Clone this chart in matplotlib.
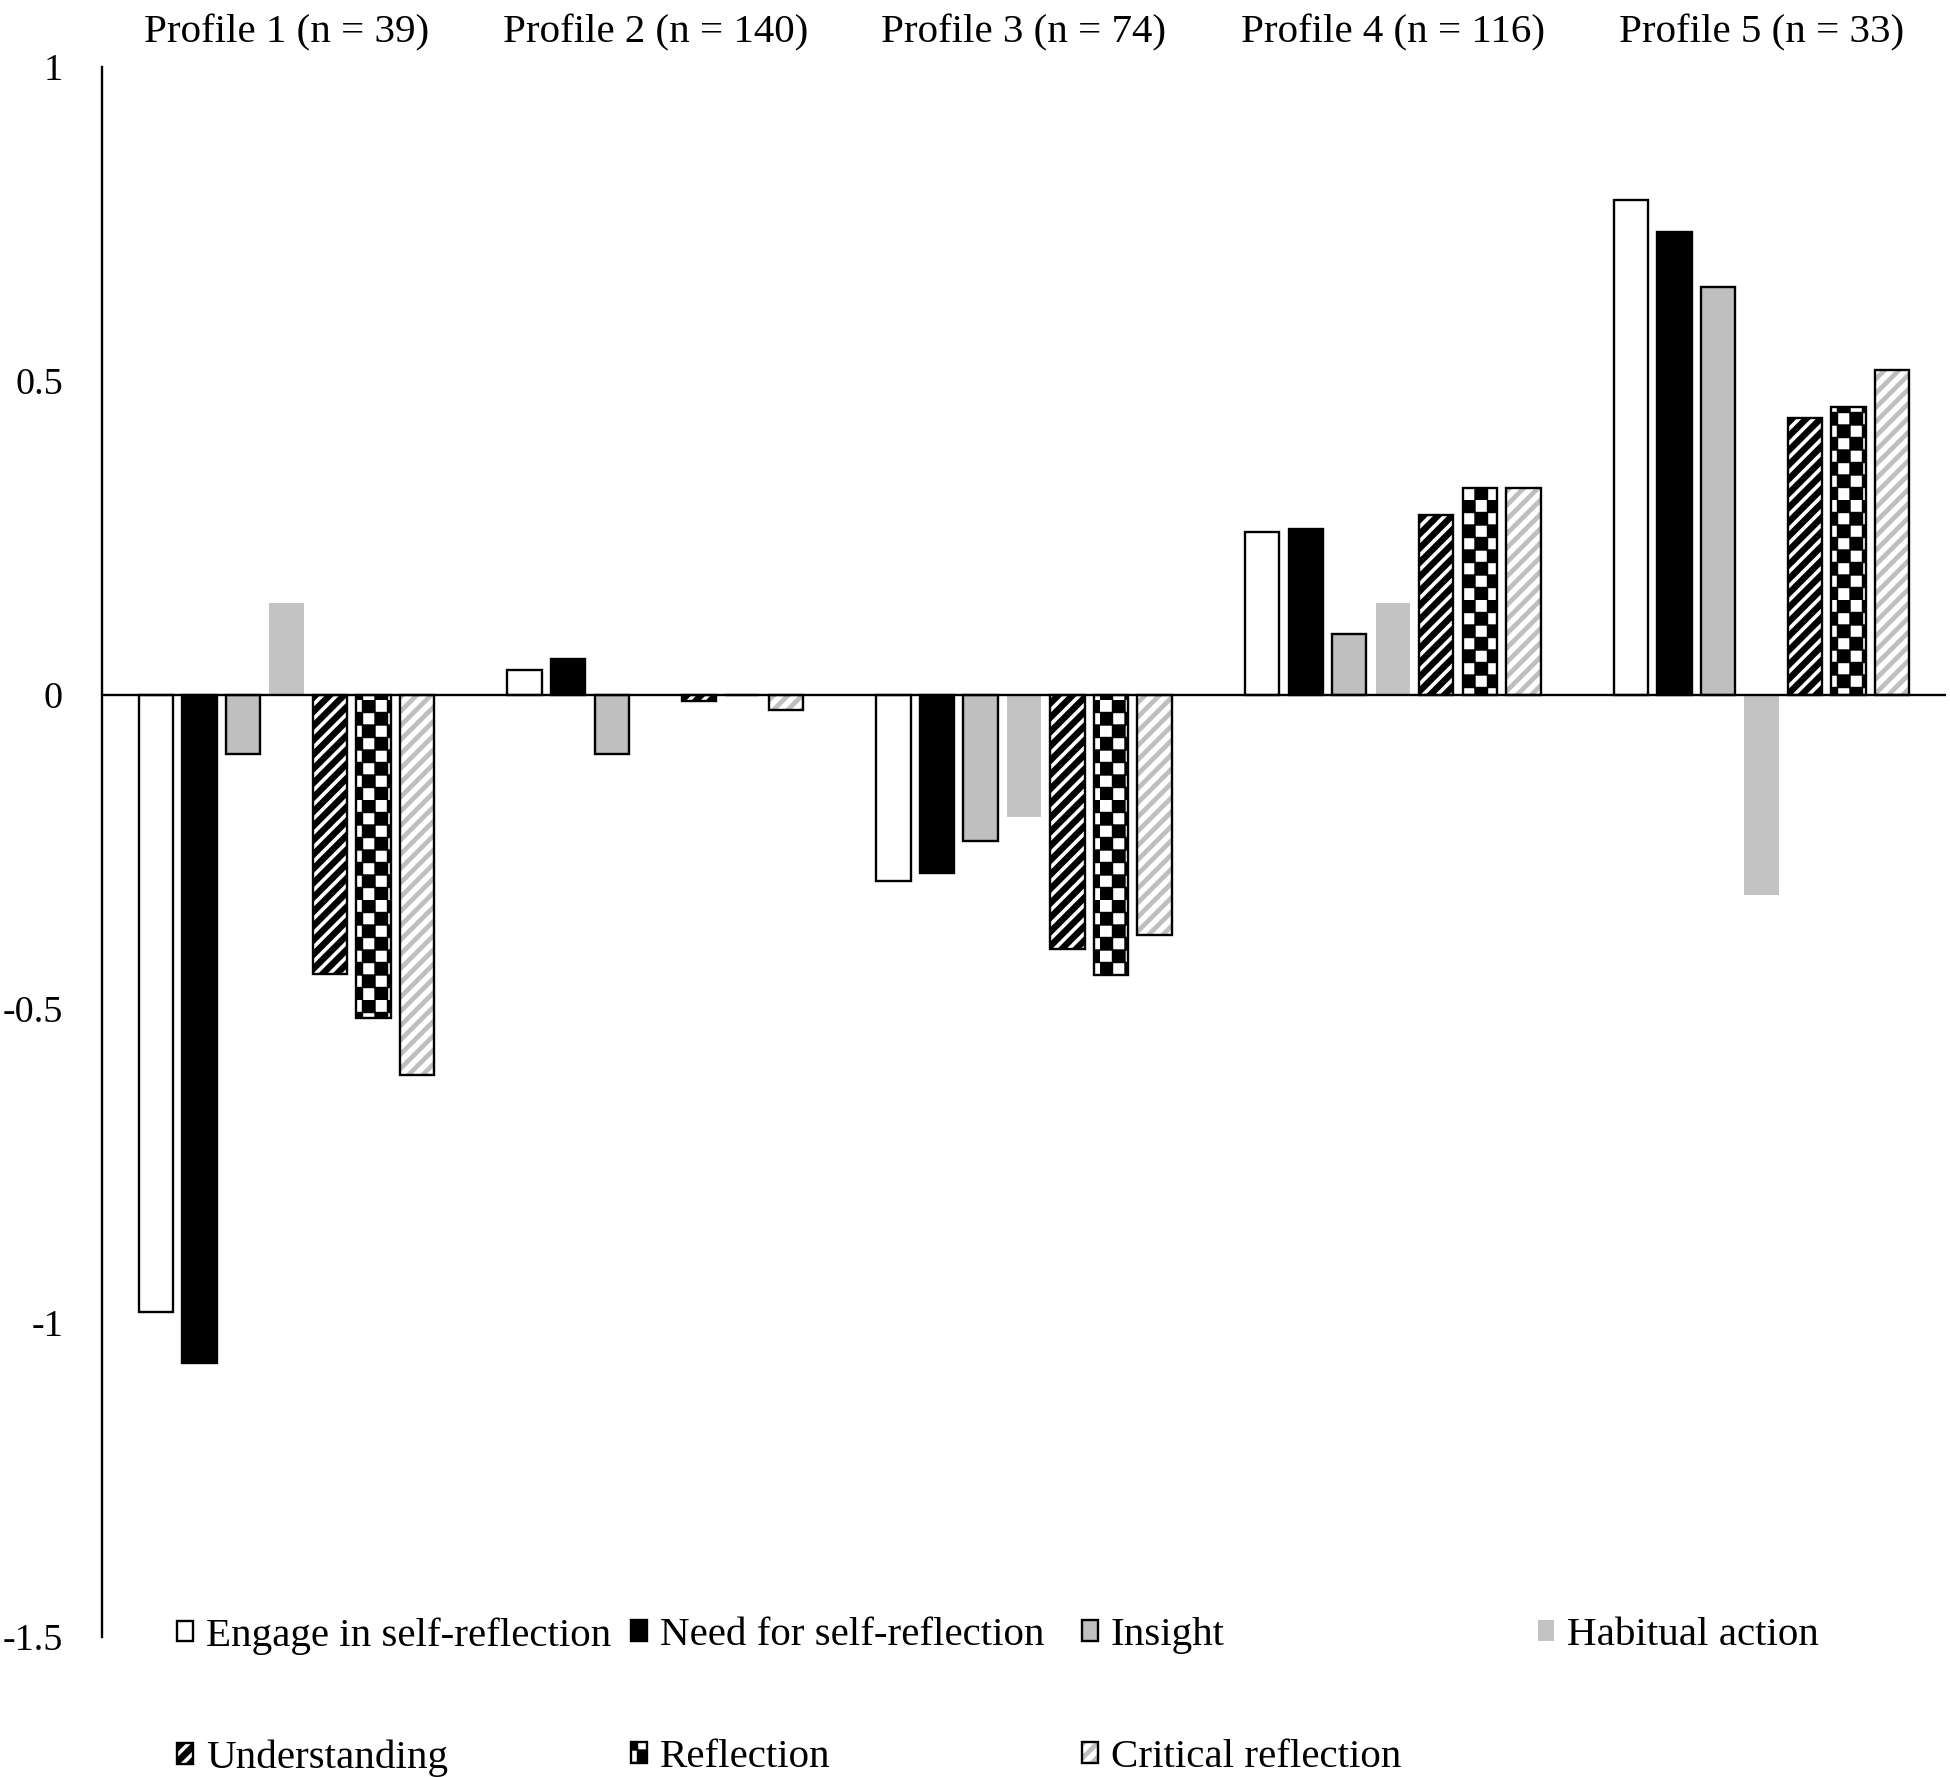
import numpy as np
import matplotlib
matplotlib.use("Agg")
import matplotlib.pyplot as plt
import matplotlib.hatch as mhatch
from matplotlib.path import Path
from matplotlib.patches import Patch
from matplotlib.legend_handler import HandlerTuple

# ---------------- data ----------------
profiles = ["Profile 1 (n = 39)", "Profile 2 (n = 140)", "Profile 3 (n = 74)",
            "Profile 4 (n = 116)", "Profile 5 (n = 33)"]
series_names = ["Engage in self-reflection", "Need for self-reflection", "Insight",
                "Habitual action", "Understanding", "Reflection", "Critical reflection"]
engage = [-0.983, 0.040, -0.296, 0.260, 0.789]
need = [-1.064, 0.057, -0.283, 0.265, 0.737]
insight = [-0.094, -0.094, -0.233, 0.097, 0.649]
habitual = [0.147, 0.0, -0.195, 0.147, -0.319]
understanding = [-0.445, -0.010, -0.404, 0.287, 0.441]
reflection = [-0.514, 0.0, -0.446, 0.329, 0.458]
critical = [-0.605, -0.024, -0.382, 0.329, 0.518]
yticks = [-1.5, -1.0, -0.5, 0.0, 0.5, 1.0]
ytick_labels = ["-1.5", "-1", "-0.5", "0", "0.5", "1"]

# ---------------- custom fill patterns ----------------
_CLOSED = [Path.MOVETO, Path.LINETO, Path.LINETO, Path.LINETO, Path.CLOSEPOLY]


class _BandHatch(mhatch.HatchPatternBase):
    char = "O"
    lines = 7
    frac = 0.5

    def __init__(self, hatch, density):
        self.offsets = (np.arange(-2 * self.lines, 2 * self.lines + 1) / self.lines
                        if (hatch and self.char in hatch) else [])
        self.num_vertices = 5 * len(self.offsets)

    def set_vertices_and_codes(self, vertices, codes):
        w = self.frac / self.lines
        v = []
        for c in self.offsets:
            v += [(-1, -1 + c), (2, 2 + c), (2, 2 + c + w), (-1, -1 + c + w), (-1, -1 + c)]
        vertices[:] = v
        codes[:] = _CLOSED * len(self.offsets)


class _ThickBand(_BandHatch):
    char = "O"
    lines = 7
    frac = 0.5


class _ThinBand(_BandHatch):
    char = "o"
    lines = 7
    frac = 0.33


class _Checker(mhatch.HatchPatternBase):
    cells = 8

    def __init__(self, hatch, density):
        n = self.cells
        self.sq = ([(i, j) for i in range(n) for j in range(n) if (i + j) % 2 == 0]
                   if (hatch and "*" in hatch) else [])
        self.num_vertices = 5 * len(self.sq)

    def set_vertices_and_codes(self, vertices, codes):
        s = 1.0 / self.cells
        v = []
        for i, j in self.sq:
            x0, y0 = i * s, j * s
            v += [(x0, y0), (x0 + s, y0), (x0 + s, y0 + s), (x0, y0 + s), (x0, y0)]
        vertices[:] = v
        codes[:] = _CLOSED * len(self.sq)


_new = []
for h in mhatch._hatch_types:
    if h is mhatch.SmallCircles:
        _new.append(_ThinBand)
    elif h is mhatch.LargeCircles:
        _new.append(_ThickBand)
    elif h is mhatch.Stars:
        _new.append(_Checker)
    else:
        _new.append(h)
mhatch._hatch_types[:] = _new

# ---------------- figure ----------------
plt.rcParams["font.family"] = ["Liberation Serif", "DejaVu Serif"]
plt.rcParams["font.size"] = 27
plt.rcParams["axes.unicode_minus"] = False
plt.rcParams["hatch.linewidth"] = 1.0

W, H = 1950, 1777
fig = plt.figure(figsize=(W / 100, H / 100), dpi=100)
ax = fig.add_axes([102 / W, 1 - 1637 / H, (1946 - 102) / W, (1637 - 67) / H])

LW = 1.7
GRAY = "#bfbfbf"
TXT = 29.5
x = np.arange(len(profiles))
pitch = 0.118
bw = 0.093
series = [engage, need, insight, habitual, understanding, reflection, critical]
styles = [
    dict(facecolor="white", edgecolor="black", linewidth=LW),
    dict(facecolor="black", edgecolor="black", linewidth=LW),
    dict(facecolor=GRAY, edgecolor="black", linewidth=LW),
    dict(facecolor="#c3c3c3", edgecolor="none", linewidth=0),
    dict(facecolor="white", edgecolor="black", hatch="O", linewidth=LW),
    dict(facecolor="white", edgecolor="black", hatch="*", linewidth=LW),
    dict(facecolor="white", edgecolor=GRAY, hatch="o", linewidth=0),
]
for k, (vals, st) in enumerate(zip(series, styles)):
    pos = x + (k - 3) * pitch
    ax.bar(pos, vals, bw, zorder=2, **st)
    if k == 6:
        ax.bar(pos, vals, bw, fill=False, edgecolor="black", linewidth=LW, zorder=2.5)

ax.axhline(0, color="black", linewidth=LW, zorder=3)

ax.set_xlim(-0.5, len(profiles) - 0.5)
ax.set_ylim(-1.5, 1.0)
for s in ["top", "right", "bottom"]:
    ax.spines[s].set_visible(False)
ax.spines["left"].set_linewidth(LW)

ax.set_yticks(yticks)
ax.set_yticklabels(ytick_labels, fontsize=27.5)
ax.tick_params(axis="y", length=0, pad=28)
ax.xaxis.tick_top()
ax.set_xticks(x)
ax.set_xticklabels(profiles, fontsize=TXT)
ax.tick_params(axis="x", length=0, pad=11)

# ---------------- legend ----------------
def make_handle(k):
    st = dict(styles[k])
    if k == 6:
        return (Patch(**st), Patch(fill=False, edgecolor="black", linewidth=LW))
    return Patch(**st)

columns = [([0, 4], 177), ([1, 5], 631), ([2, 6], 1082), ([3], 1538)]
for idx, xpix in columns:
    handles = [make_handle(k) for k in idx]
    labels = [series_names[k] for k in idx]
    fig.legend(handles, labels, loc="upper left",
               bbox_to_anchor=(xpix / W, 1 - 1617 / H),
               frameon=False, borderpad=0, borderaxespad=0,
               handlelength=0.4, handleheight=0.4, handletextpad=0.3,
               labelspacing=2.08, fontsize=TXT,
               handler_map={tuple: HandlerTuple(ndivide=1)})

fig.savefig("out.png", dpi=100)
